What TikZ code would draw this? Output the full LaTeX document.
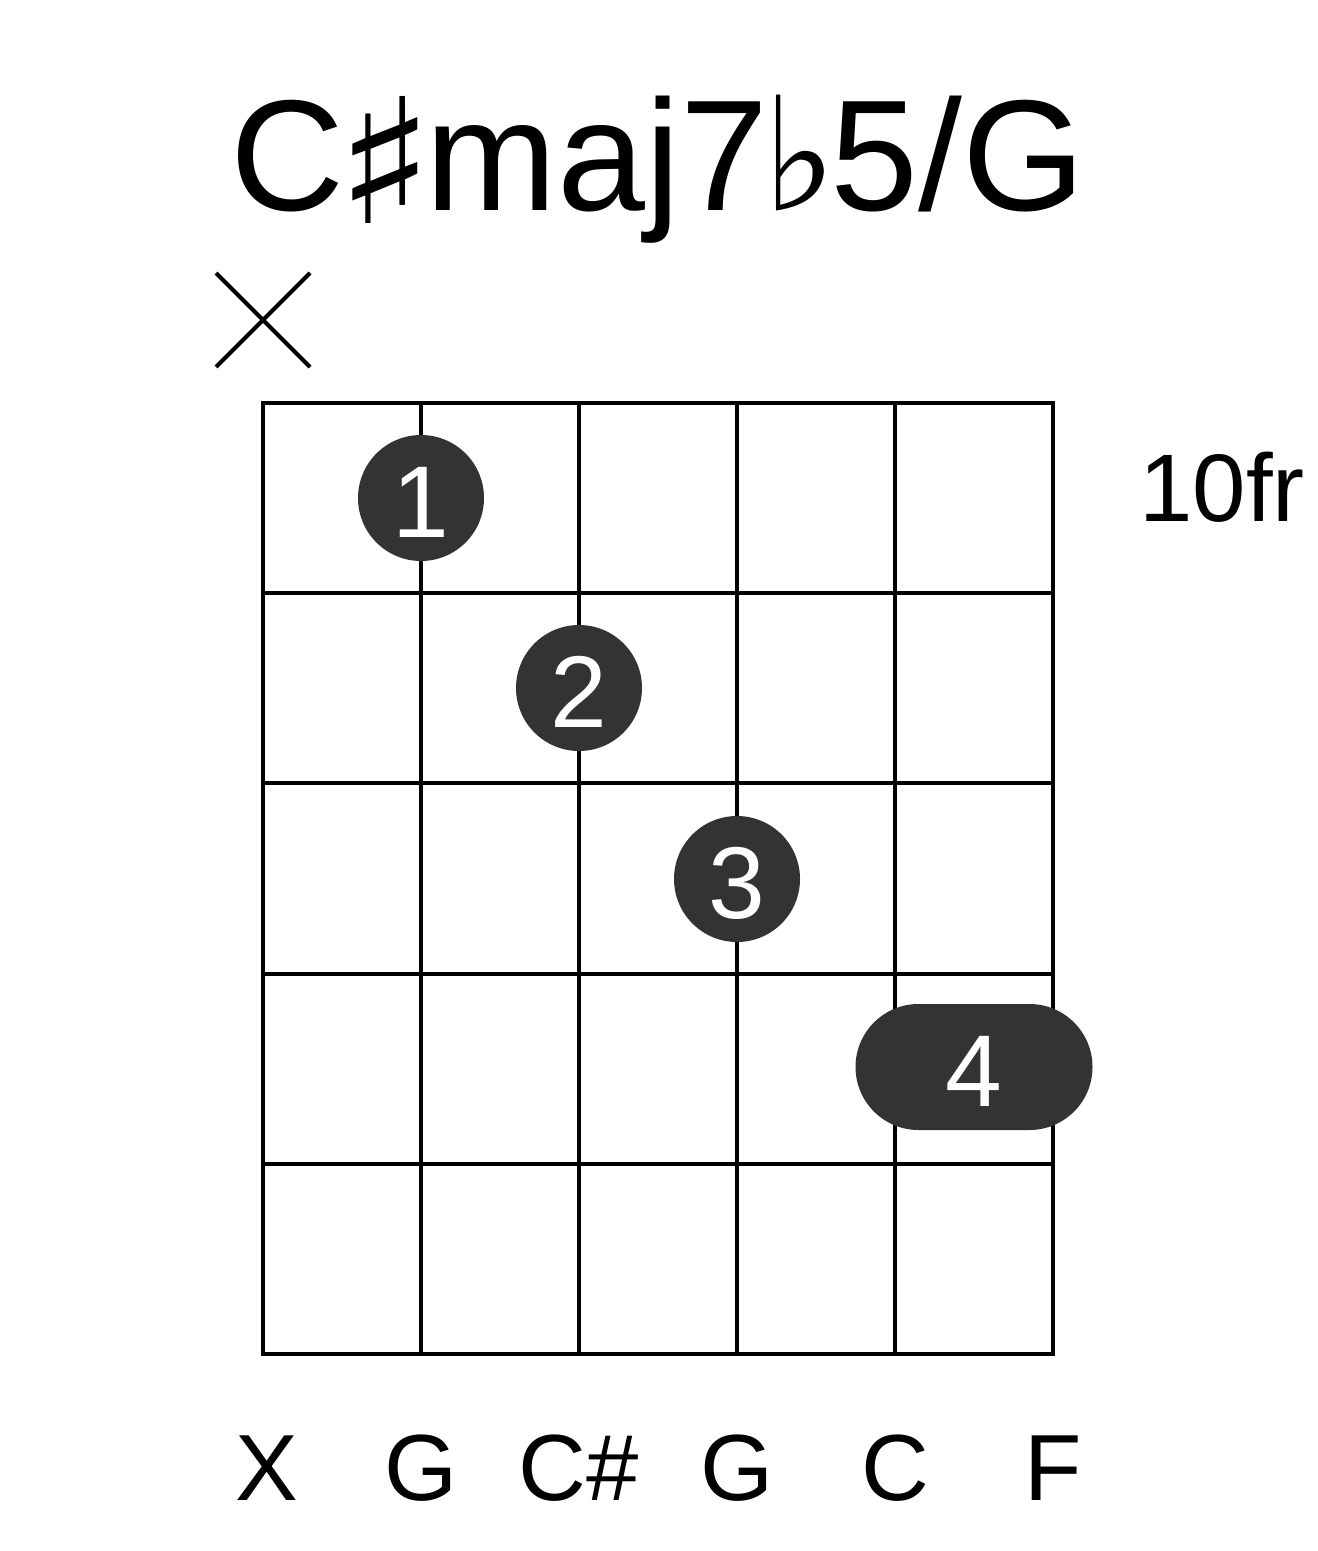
\documentclass[tikz,border=0pt]{standalone}
\usepackage{fontspec}
\setmainfont{Liberation Sans}
\newfontfamily\symfont{DejaVu Sans}
\usetikzlibrary{positioning}
\definecolor{fingerdot}{HTML}{333333}
\newcommand{\sharpsign}{\hspace{-4.5pt}\raisebox{-6.5pt}{\scalebox{1.3}[1.1]{\symfont ♯}}\hspace{-4.5pt}}
\newcommand{\flatsign}{\hspace{-3pt}{\symfont ♭}\hspace{-3pt}}

\begin{document}
\begin{tikzpicture}[x=0.5pt,y=-0.5pt,line width=2pt,
  every node/.style={inner sep=0pt,font=\fontsize{47}{47}\selectfont},
  finger/.style={circle,fill=fingerdot,minimum size=63pt},
  barre/.style={rectangle,rounded corners=31.5pt,fill=fingerdot,minimum width=118.5pt,minimum height=63pt},
  num/.style={anchor=base,text=white,font=\fontsize{51}{51}\selectfont}]
\useasboundingbox (0,0) rectangle (1317,1551);
\node[anchor=base,font=\fontsize{79}{79}\selectfont] (title) at (658,211) {C\sharpsign maj7\flatsign 5/G};
\draw (216,273) -- (310,367) (216,367) -- (310,273);
\draw (263,403) rectangle (1053,1354);
\foreach \x in {421,579,737,895} \draw (\x,403) -- (\x,1354);
\foreach \y in {1,...,4} \draw (263,403+190.2*\y) -- (1053,403+190.2*\y);
\node[finger] (f1) at (421,498) {};
\node[num] (n1) at ([yshift=-19.5pt]f1.center) {1};
\node[finger] (f2) at (579,688) {};
\node[num] (n2) at ([yshift=-19.5pt]f2.center) {2};
\node[finger] (f3) at (737,879) {};
\node[num] (n3) at ([yshift=-19.5pt]f3.center) {3};
\node[barre] (b4) at (974,1067) {};
\node[num] (n4) at ([yshift=-19.5pt]b4.center) {4};
\node[anchor=base,font=\fontsize{48}{48}\selectfont] (fret) at (1222,521) {10fr};
\foreach \x/\s [count=\i] in {267/X,421/G,579/C\#,737/G,895/C,1053/F}
  \node[anchor=base] (s\i) at (\x,1500) {\s};
\end{tikzpicture}
\end{document}
